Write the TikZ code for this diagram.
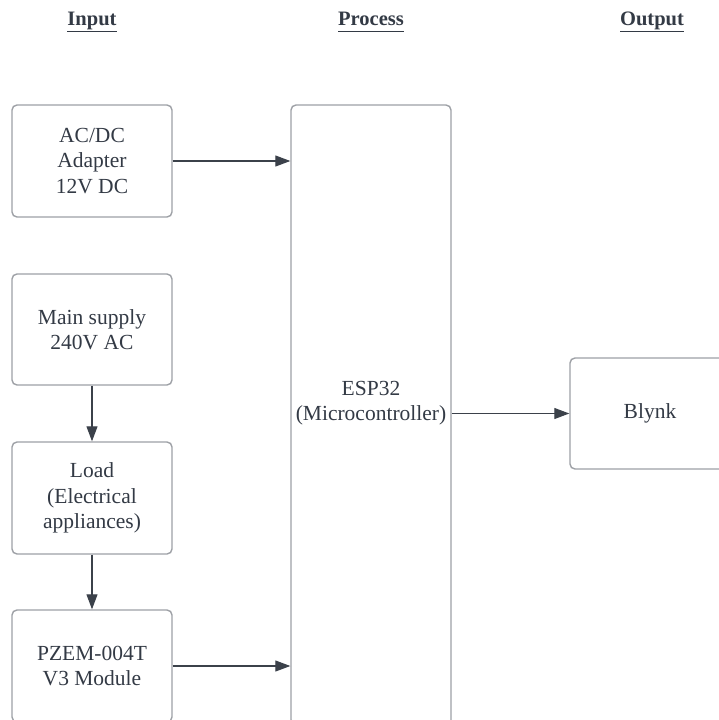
\documentclass[tikz,border=0pt]{standalone}
\usepackage{fontspec}
\setmainfont{Liberation Serif}
\usetikzlibrary{arrows.meta}
\definecolor{txt}{HTML}{333A45}
\definecolor{boxc}{HTML}{9EA1A6}
\definecolor{arr}{HTML}{3B414A}
\tikzset{
  blk/.style={draw=boxc, line width=1.4pt, rounded corners=5pt, minimum width=160pt, minimum height=112pt, inner sep=0pt, align=center, text=txt, font=\fontsize{21.5}{25.3}\selectfont},
  hdr/.style={text=txt, font=\fontsize{20.5}{22}\bfseries\selectfont, inner sep=0pt, anchor=base},
  con/.style={draw=arr, line width=1.1pt, -{Triangle[length=15pt, width=11pt]}},
  lbl/.style={text=txt, align=center, font=\fontsize{21.5}{25.3}\selectfont, inner sep=0pt}
}
\newcommand{\ul}[1]{\underline{#1\vphantom{p}}}
\begin{document}
\begin{tikzpicture}[x=1pt, y=-1pt]
\useasboundingbox (0,0) rectangle (719,720);
\clip (0,0) rectangle (719,720);
\fill[white] (0,0) rectangle (719,720);
\node[hdr] (hin) at (92,25.5) {\ul{Input}};
\node[hdr] (hpr) at (371,25.5) {\ul{Process}};
\node[hdr] (hout) at (652,25.5) {\ul{Output}};
\node[blk] (ac) at (92,161) {AC/DC\\Adapter\\12V DC};
\node[blk, minimum height=111pt] (main) at (92,329.5) {Main supply\\240V AC};
\node[blk] (load) at (92,498) {Load\\(Electrical\\appliances)};
\node[blk] (pzem) at (92,666) {PZEM-004T\\V3 Module};
\node[blk, minimum height=620pt] (esp) at (371,415) {};
\node[lbl] (esptxt) at (371,403) {ESP32\\(Microcontroller)};
\node[blk, minimum height=111pt] (blynk) at (650,413.5) {Blynk};
\draw[con] (ac.east) -- (ac.east -| esp.west);
\draw[con] (pzem.east) -- (pzem.east -| esp.west);
\draw[con] (main.south) -- (load.north);
\draw[con] (load.south) -- (pzem.north);
\draw[con] (esp.east |- blynk.west) -- (blynk.west);
\end{tikzpicture}
\end{document}
